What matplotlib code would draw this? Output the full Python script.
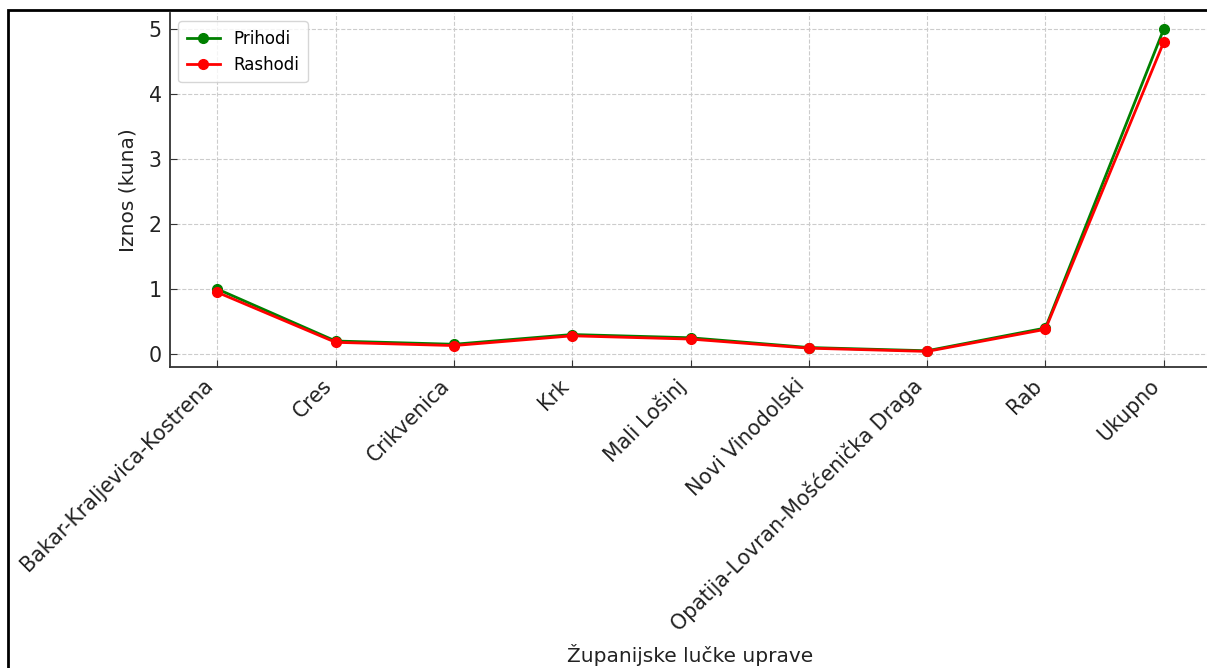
import matplotlib
matplotlib.use("Agg")
from matplotlib import pyplot as plt
from matplotlib.patches import Rectangle
import numpy as np

# values
uprave = [
    "Bakar-Kraljevica-Kostrena",
    "Cres",
    "Crikvenica",
    "Krk",
    "Mali Lošinj",
    "Novi Vinodolski",
    "Opatija-Lovran-Mošćenička Draga",
    "Rab",
    "Ukupno",
]
prihodi = [1.0, 0.2, 0.15, 0.3, 0.25, 0.1, 0.05, 0.4, 5.0]
rashodi = [0.95, 0.18, 0.13, 0.28, 0.23, 0.09, 0.04, 0.38, 4.8]

W, H = 1207, 668
fig = plt.figure(figsize=(W / 100, H / 100), dpi=100)
ax = fig.add_axes([170 / W, 1 - 367 / H, (1211 - 170) / W, (367 - 13) / H])

ax.plot(uprave, prihodi, marker="o", color="green", linewidth=2, markersize=7, label="Prihodi")
ax.plot(uprave, rashodi, marker="o", color="red", linewidth=2, markersize=7, label="Rashodi")

ax.set_xlim(-0.4, 8.4)
ax.set_ylim(-0.2, 5.25)
ax.set_yticks([0, 1, 2, 3, 4, 5])
ax.grid(True, linestyle="--", color="#cccccc", linewidth=0.8)
ax.set_axisbelow(True)
ax.tick_params(direction="in", colors="#333333", labelcolor="#222222", labelsize=14.8, length=5, pad=6)
plt.setp(ax.get_xticklabels(), rotation=45, ha="right")
for s in ["top", "right"]:
    ax.spines[s].set_visible(False)
for s in ["left", "bottom"]:
    ax.spines[s].set_color("#333333")
    ax.spines[s].set_linewidth(1.3)

ax.set_ylabel("Iznos (kuna)", fontsize=14.5, color="#222222", labelpad=8)
ax.set_xlabel("Županijske lučke uprave", fontsize=14.5, color="#222222", labelpad=6)
ax.legend(loc="upper left", fontsize=12, frameon=True, edgecolor="#cccccc", borderpad=0.5)

# outer frame of the original screenshot
fig.patches.append(
    Rectangle((8 / W, -0.1), 1.2, 1 - 10 / H + 0.1, transform=fig.transFigure,
              fill=False, edgecolor="black", linewidth=2)
)

fig.savefig("out.png", dpi=100)
